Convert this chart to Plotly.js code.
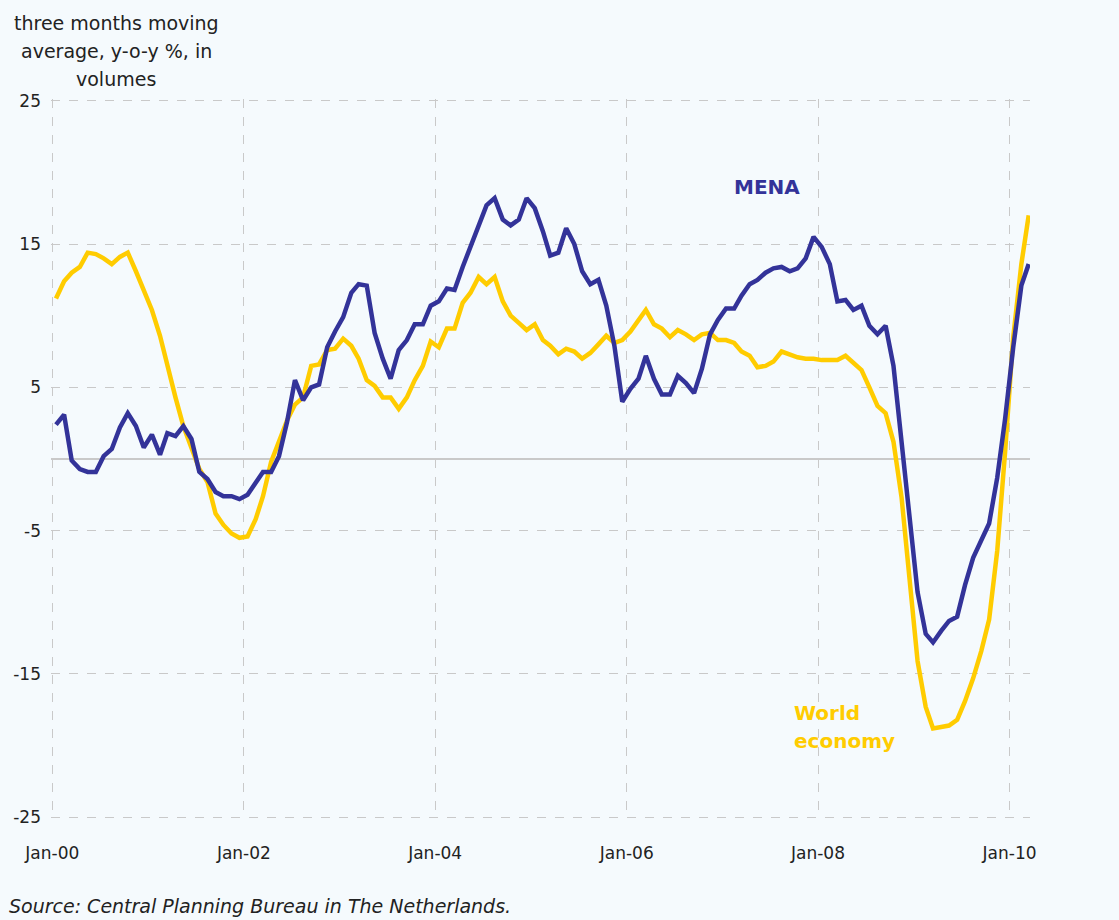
<!DOCTYPE html>
<html>
<head>
<meta charset="utf-8">
<script src="https://cdn.plot.ly/plotly-3.0.1.min.js"></script>
<style>
  html, body { margin: 0; padding: 0; background: #f5fafd; }
  #chart { width: 1119px; height: 920px; }
</style>
</head>
<body>
<div id="chart"></div>
<script>
// Monthly observations, Jan-2000 .. Mar-2010 (three months moving average, y-o-y %)
const startYear = 2000;
const startMonth = 1;

const worldEconomy = [
  11.2, 12.4, 13.0, 13.4, 14.4, 14.3, 14.0, 13.6, 14.1, 14.4, 13.1, 11.7,
  10.4, 8.6, 6.5, 4.3, 2.3, 0.7, -0.7, -1.6, -3.8, -4.6, -5.2, -5.5,
  -5.4, -4.2, -2.6, -0.2, 1.3, 2.7, 3.8, 4.3, 6.5, 6.6, 7.6, 7.7,
  8.4, 7.9, 7.0, 5.5, 5.1, 4.3, 4.3, 3.5, 4.3, 5.5, 6.5, 8.2,
  7.8, 9.1, 9.1, 10.9, 11.6, 12.7, 12.2, 12.7, 11.0, 10.0, 9.5, 9.0,
  9.4, 8.3, 7.9, 7.3, 7.7, 7.5, 7.0, 7.4, 8.0, 8.6, 8.1, 8.3,
  8.9, 9.7, 10.4, 9.4, 9.1, 8.5, 9.0, 8.7, 8.3, 8.7, 8.8, 8.3,
  8.3, 8.1, 7.5, 7.2, 6.4, 6.5, 6.8, 7.5, 7.3, 7.1, 7.0, 7.0,
  6.9, 6.9, 6.9, 7.2, 6.7, 6.2, 5.0, 3.7, 3.2, 1.2, -2.7, -8.2,
  -14.1, -17.3, -18.8, -18.7, -18.6, -18.2, -16.9, -15.3, -13.4, -11.2, -6.4, 0.5,
  8.5, 13.6, 17.0
];

const mena = [
  2.4, 3.1, -0.1, -0.7, -0.9, -0.9, 0.2, 0.7, 2.2, 3.2, 2.3, 0.8,
  1.7, 0.3, 1.8, 1.6, 2.3, 1.4, -0.9, -1.4, -2.3, -2.6, -2.6, -2.8,
  -2.5, -1.7, -0.9, -0.9, 0.2, 2.6, 5.5, 4.1, 5.0, 5.2, 7.8, 8.9,
  9.9, 11.6, 12.2, 12.1, 8.8, 7.0, 5.6, 7.6, 8.3, 9.4, 9.4, 10.7,
  11.0, 11.9, 11.8, 13.4, 14.8, 16.3, 17.7, 18.2, 16.7, 16.3, 16.7, 18.2,
  17.5, 15.9, 14.2, 14.4, 16.1, 15.0, 13.1, 12.2, 12.5, 10.7, 7.9, 4.0,
  4.9, 5.6, 7.2, 5.6, 4.5, 4.5, 5.8, 5.3, 4.6, 6.3, 8.7, 9.7,
  10.5, 10.5, 11.4, 12.2, 12.5, 13.0, 13.3, 13.4, 13.1, 13.3, 14.0, 15.5,
  14.8, 13.6, 11.0, 11.1, 10.4, 10.7, 9.3, 8.7, 9.3, 6.5, 1.1, -4.5,
  -9.3, -12.2, -12.8, -12.0, -11.3, -11.0, -8.8, -6.9, -5.7, -4.5, -1.3, 2.8,
  7.8, 12.1, 13.6
];

const xTickVals = ['2000-01-01', '2002-01-01', '2004-01-01', '2006-01-01', '2008-01-01', '2010-01-01'];
const xTickText = ['Jan-00', 'Jan-02', 'Jan-04', 'Jan-06', 'Jan-08', 'Jan-10'];
const yTickVals = [-25, -15, -5, 5, 15, 25];
const yTickText = ['-25', '-15', '-5', '5', '15', '25'];

const seriesNames = ['World economy', 'MENA'];
const seriesColors = ['#ffcc00', '#333399'];
const yTitleLines = ['three months moving', 'average, y-o-y %, in', 'volumes'];

// mid-month dates for each observation
const dates = [];
for (let i = 0; i < mena.length; i++) {
  const m = startMonth - 1 + i;
  const y = startYear + Math.floor(m / 12);
  const mm = (m % 12) + 1;
  dates.push(y + '-' + String(mm).padStart(2, '0') + '-15');
}

const font = 'DejaVu Sans, Verdana, sans-serif';
const gridColor = '#c9c9c9';

const traces = [
  { x: dates, y: worldEconomy, name: seriesNames[0], type: 'scatter', mode: 'lines',
    line: { color: seriesColors[0], width: 4.5 }, hoverinfo: 'x+y' },
  { x: dates, y: mena, name: seriesNames[1], type: 'scatter', mode: 'lines',
    line: { color: seriesColors[1], width: 4.5 }, hoverinfo: 'x+y' }
];

const annotations = [];
yTitleLines.forEach(function (t, k) {
  annotations.push({ xref: 'paper', yref: 'paper', x: 0, y: 1.0, xanchor: 'center', yanchor: 'middle',
    xshift: 65, yshift: 76 - 28 * k, text: t, showarrow: false,
    font: { family: font, size: 19, color: '#222222' } });
});
annotations.push(
  { xref: 'x', yref: 'y', x: '2007-06-20', y: 19.0, xanchor: 'center', yanchor: 'middle',
    text: '<b>MENA</b>', showarrow: false,
    font: { family: font, size: 20, color: seriesColors[1] } },
  { xref: 'x', yref: 'y', x: '2007-09-25', y: -17.7, xanchor: 'left', yanchor: 'middle',
    text: '<b>World</b>', showarrow: false,
    font: { family: font, size: 20, color: seriesColors[0] } },
  { xref: 'x', yref: 'y', x: '2007-09-25', y: -19.7, xanchor: 'left', yanchor: 'middle',
    text: '<b>economy</b>', showarrow: false,
    font: { family: font, size: 20, color: seriesColors[0] } },
  { xref: 'paper', yref: 'paper', x: 0, y: 0, xanchor: 'left', yanchor: 'middle',
    xshift: -44, yshift: -87,
    text: '<i>Source: Central Planning Bureau in The Netherlands.</i>', showarrow: false,
    font: { family: font, size: 19, color: '#222222' } }
);

const layout = {
  width: 1119, height: 920,
  paper_bgcolor: '#f5fafd', plot_bgcolor: '#f5fafd',
  margin: { l: 51, r: 89, t: 99, b: 101 },
  showlegend: false,
  font: { family: font, color: '#222222' },
  xaxis: {
    type: 'date',
    range: ['1999-12-27', '2010-03-20'],
    tickvals: xTickVals, ticktext: xTickText,
    showgrid: true, gridcolor: gridColor, griddash: 'dash', gridwidth: 1,
    zeroline: false, showline: false, ticks: '',
    tickfont: { family: font, size: 17, color: '#222222' },
    ticklabelstandoff: 22
  },
  yaxis: {
    range: [-25.12, 25.12],
    tickvals: yTickVals, ticktext: yTickText,
    showgrid: true, gridcolor: gridColor, griddash: 'dash', gridwidth: 1,
    zeroline: true, zerolinecolor: gridColor, zerolinewidth: 1.5,
    showline: false, ticks: '',
    tickfont: { family: font, size: 17, color: '#222222' },
    ticklabelstandoff: 9
  },
  annotations: annotations
};

Plotly.newPlot('chart', traces, layout, { displayModeBar: false, staticPlot: true });
</script>
</body>
</html>
